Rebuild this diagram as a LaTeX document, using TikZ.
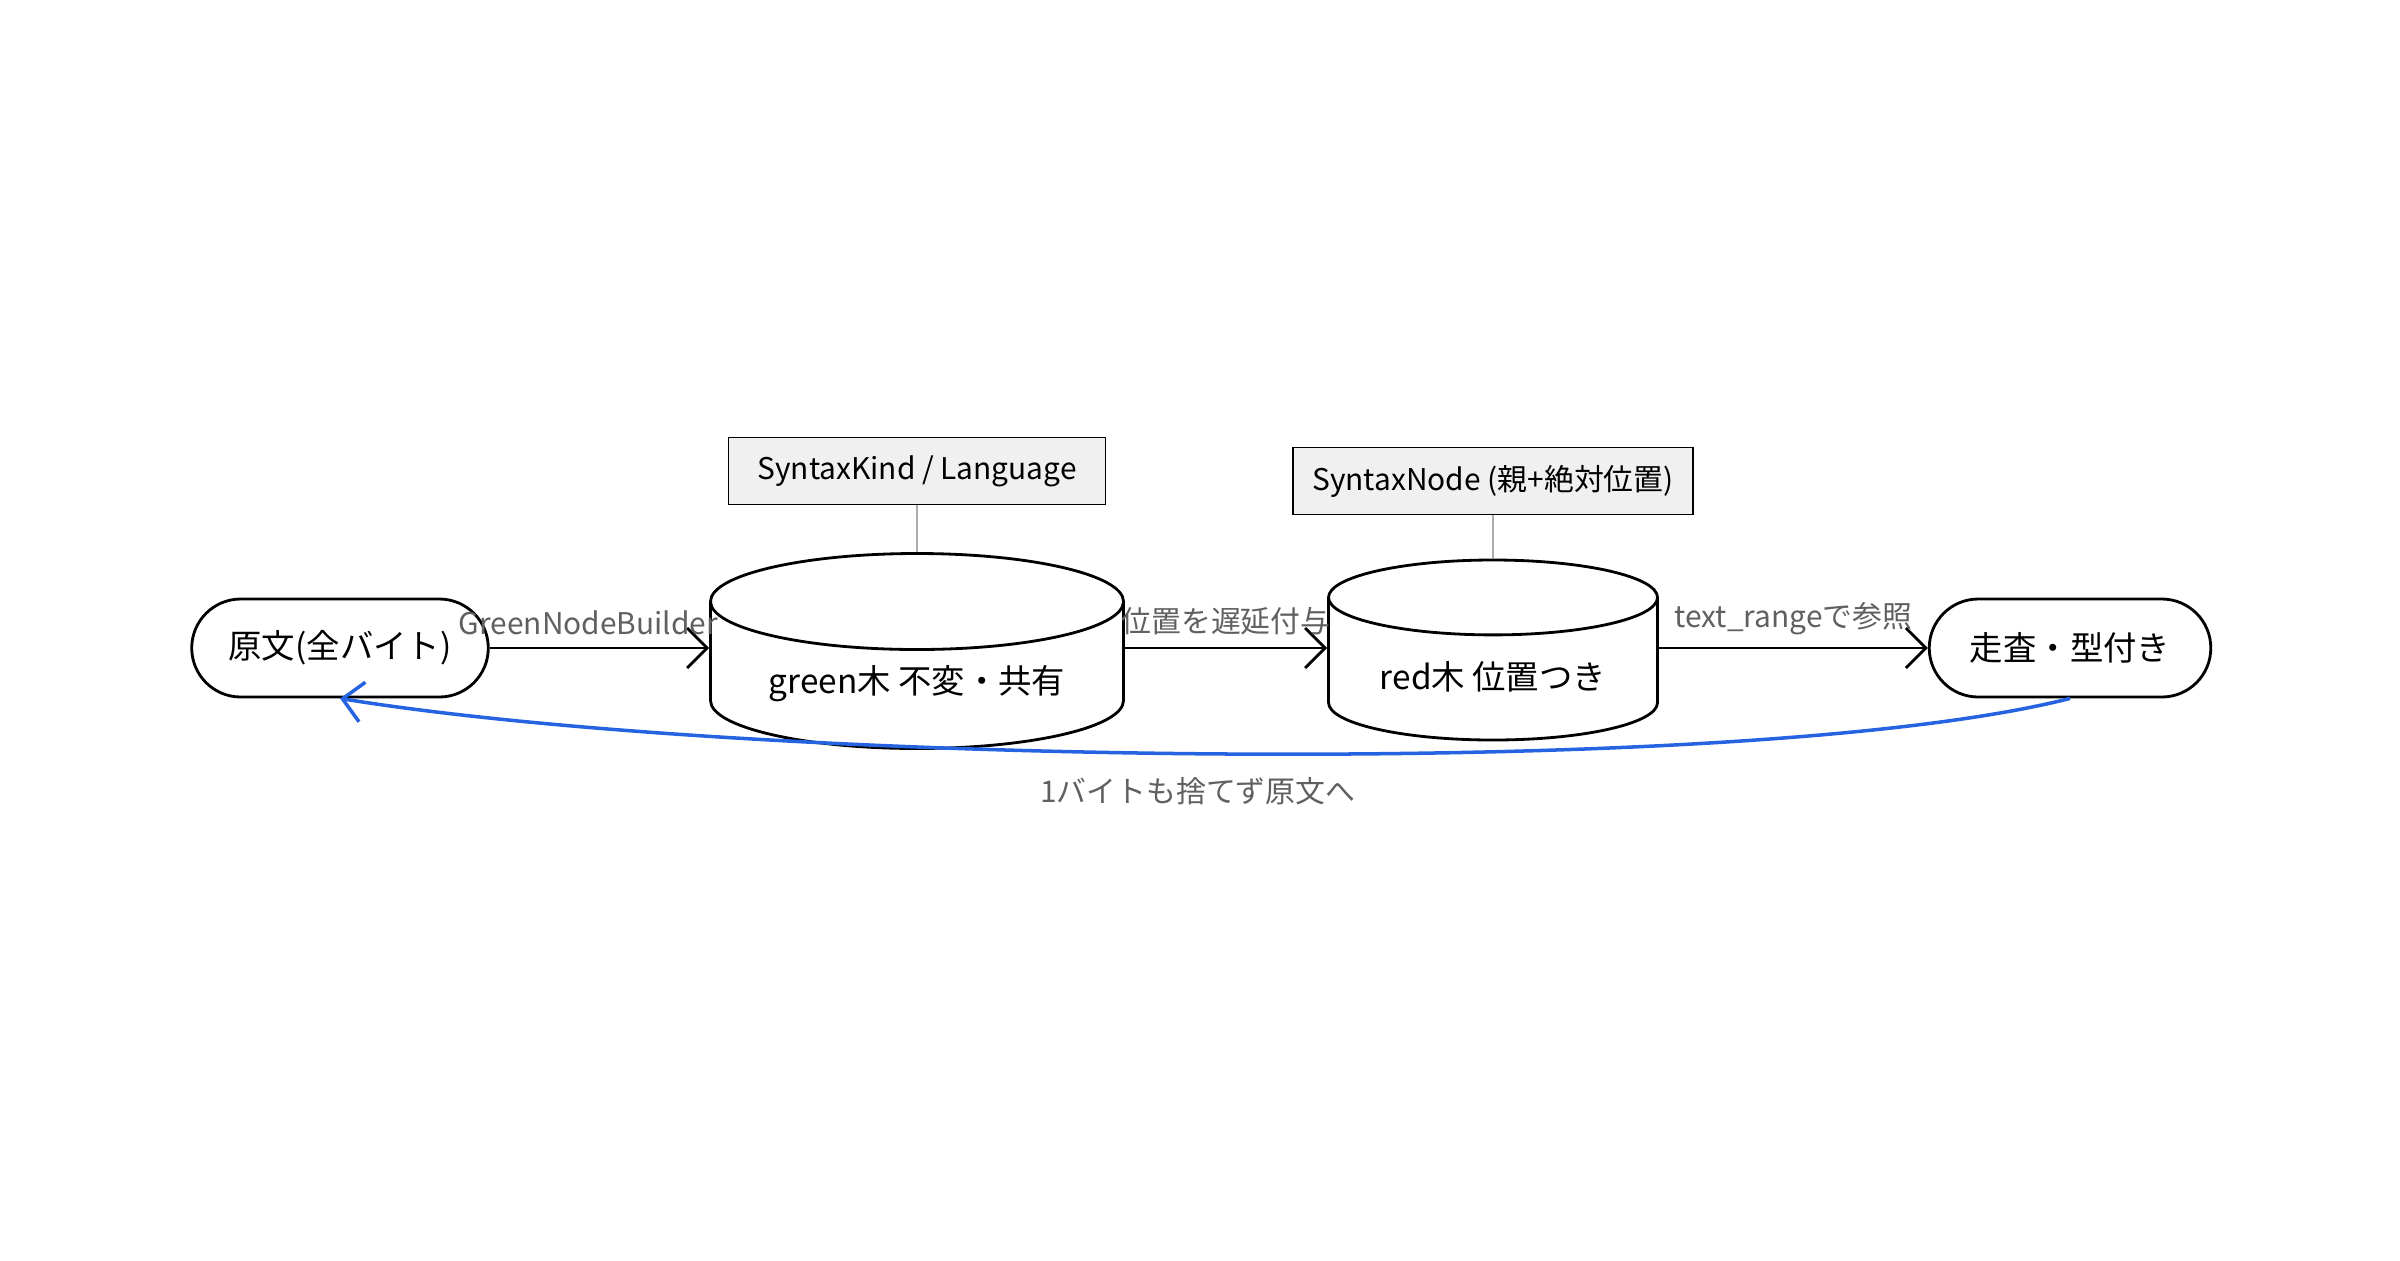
\documentclass[tikz,border=0pt]{standalone}
\usepackage{fontspec}
\setmainfont{Noto Sans CJK JP}
\usetikzlibrary{arrows.meta, positioning, shapes.geometric, shapes.misc}

\begin{document}
\begin{tikzpicture}[
    term/.style={draw, thick, rounded rectangle, minimum width=3.2cm, minimum height=0.98cm, font=\fontsize{9.5}{12}\selectfont},
    store/.style={draw, thick, cylinder, shape border rotate=90, aspect=0.3, anchor=shape center, align=center, font=\fontsize{9.5}{12}\selectfont},
    note/.style={draw, fill=gray!12, minimum height=0.67cm, font=\fontsize{8.5}{11}\selectfont},
    arrow/.style={-{Straight Barb[length=2mm]}, thick},
    lbl/.style={text=gray!75!black, font=\fontsize{8.5}{11}\selectfont},
]
\useasboundingbox (0,0) rectangle (24,12.6);

% Knoten
\node[term] (src) at (3.40,6.12) {原文(全バイト)};
\node[store, minimum width=4.13cm, minimum height=1.95cm] (green) at (9.17,6.09) {green木 不変・共有};
\node[store, minimum width=3.29cm, minimum height=1.80cm] (red) at (14.93,6.10) {red木 位置つき};
\node[term, minimum width=3.05cm] (walk) at (20.70,6.12) {走査・型付き};

% Notizen
\node[note, minimum width=3.77cm] (kind) at (9.17,7.89) {SyntaxKind / Language};
\node[note, minimum width=4.0cm] (synnode) at (14.93,7.79) {SyntaxNode (親+絶対位置)};
\draw[gray] (kind.south) -- (green.north);
\draw[gray] (synnode.south) -- (red.north);

% Pfeile
\draw[arrow] (src.east) -- node[lbl, above, pos=0.45] {GreenNodeBuilder} (src.east -| green.west);
\draw[arrow] (green.east |- src.east) -- node[lbl, above] {位置を遅延付与} (red.west |- src.east);
\draw[arrow] (red.east |- src.east) -- node[lbl, above] {text\_rangeで参照} (walk.west);

% Rueckweg
\draw[arrow, line width=1pt, draw={rgb,255:red,38;green,99;blue,224}] (walk.south) .. controls (17.5,4.8) and (7.5,4.95) .. node[lbl, below=0.1cm, pos=0.52] {1バイトも捨てず原文へ} (src.south);
\end{tikzpicture}
\end{document}
